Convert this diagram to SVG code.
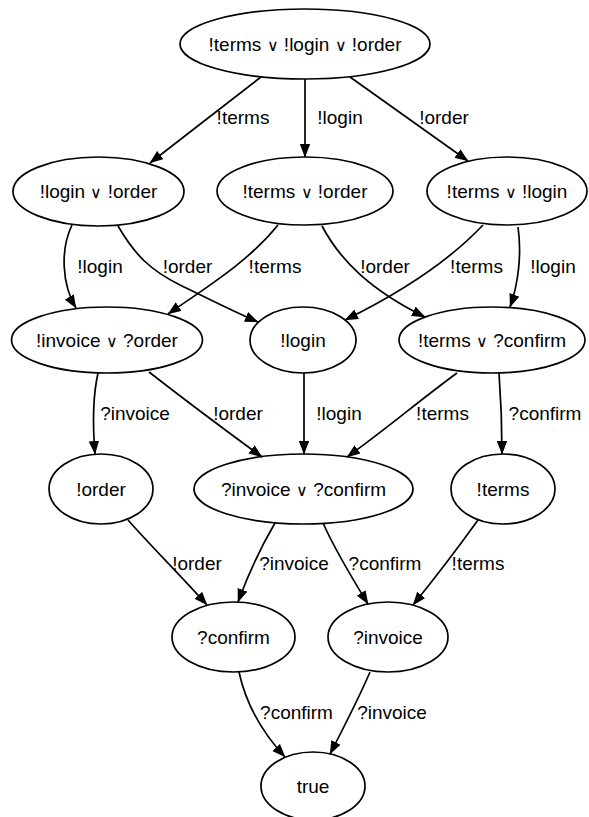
<svg xmlns="http://www.w3.org/2000/svg" width="589" height="817" viewBox="0 0 589 817">
<style>
text{font-family:"Liberation Sans",Arial,"DejaVu Sans",sans-serif;font-size:19px;fill:#000;text-anchor:middle}
.o{font-family:"DejaVu Sans",sans-serif;font-size:16px;font-weight:200}
.n ellipse{fill:none;stroke:#000;stroke-width:1.7}
.e path{fill:none;stroke:#000;stroke-width:1.7;marker-end:url(#ah)}
</style>
<defs>
<marker id="ah" markerUnits="userSpaceOnUse" markerWidth="14" markerHeight="11" refX="13" refY="5.2" orient="auto">
<path d="M0,0 L13.5,5.2 L0,10.4 z" fill="#000"/>
</marker>
</defs>
<g class="n">
<g id="n_top"><ellipse cx="305" cy="44" rx="125" ry="35"/><text x="305" y="50.5">!terms <tspan class="o">∨</tspan> !login <tspan class="o">∨</tspan> !order</text></g>
<g id="n_login_order"><ellipse cx="98.5" cy="191.5" rx="85.5" ry="34.5"/><text x="98.5" y="198">!login <tspan class="o">∨</tspan> !order</text></g>
<g id="n_terms_order"><ellipse cx="305" cy="191" rx="88" ry="34"/><text x="305" y="197.5">!terms <tspan class="o">∨</tspan> !order</text></g>
<g id="n_terms_login"><ellipse cx="507" cy="191" rx="80" ry="34"/><text x="507" y="197.5">!terms <tspan class="o">∨</tspan> !login</text></g>
<g id="n_invoice_order"><ellipse cx="107" cy="340" rx="95.5" ry="33"/><text x="107" y="346.5">!invoice <tspan class="o">∨</tspan> ?order</text></g>
<g id="n_login"><ellipse cx="303" cy="340" rx="53" ry="33"/><text x="303" y="346.5">!login</text></g>
<g id="n_terms_confirm"><ellipse cx="492" cy="340" rx="93" ry="33"/><text x="492" y="346.5">!terms <tspan class="o">∨</tspan> ?confirm</text></g>
<g id="n_order"><ellipse cx="101" cy="489" rx="52" ry="35"/><text x="101" y="495.5">!order</text></g>
<g id="n_invoice_confirm"><ellipse cx="303.5" cy="489" rx="109.5" ry="35"/><text x="303.5" y="495.5">?invoice <tspan class="o">∨</tspan> ?confirm</text></g>
<g id="n_terms"><ellipse cx="503" cy="489" rx="52" ry="35"/><text x="503" y="495.5">!terms</text></g>
<g id="n_confirm"><ellipse cx="233.5" cy="637" rx="61.5" ry="35"/><text x="233.5" y="643.5">?confirm</text></g>
<g id="n_invoice"><ellipse cx="388" cy="637" rx="60" ry="35"/><text x="388" y="643.5">?invoice</text></g>
<g id="n_true"><ellipse cx="313" cy="786" rx="52" ry="34"/><text x="313" y="792.5">true</text></g>
</g>
<g class="e" id="connectors">
<path d="M261,77 L150,163"/>
<path d="M305,79 L305,157"/>
<path d="M350,77 L468,161"/>
<path d="M72,225 C60,250 62,285 76,308"/>
<path d="M118,226 C135,255 150,270 180,285 C205,297 230,310 258,322"/>
<path d="M278,225 C250,260 210,285 168,314"/>
<path d="M322,226 C340,260 370,290 425,317"/>
<path d="M483,225 C450,260 400,293 345,320"/>
<path d="M518,227 C522,255 518,285 510,307"/>
<path d="M98,373 C92,400 93,430 95,454"/>
<path d="M149,372 C185,400 225,430 262,457"/>
<path d="M304,373 L304,454"/>
<path d="M457,373 C420,400 385,430 347,457"/>
<path d="M499,373 C501,400 502,430 502,454"/>
<path d="M128,520 C150,545 180,575 207,605"/>
<path d="M275,523 C262,545 248,575 238,602"/>
<path d="M323,523 C335,550 352,578 368,604"/>
<path d="M478,520 C460,545 435,578 413,605"/>
<path d="M239,672 C245,700 260,730 285,757"/>
<path d="M370,672 C358,700 345,725 330,754"/>
</g>
<g id="labels">
<text x="243" y="123.5">!terms</text>
<text x="340" y="123.5">!login</text>
<text x="444" y="123.5">!order</text>
<text x="100" y="273">!login</text>
<text x="187.5" y="273">!order</text>
<text x="275" y="273">!terms</text>
<text x="385" y="273">!order</text>
<text x="476.5" y="273">!terms</text>
<text x="553" y="273">!login</text>
<text x="135" y="419.5">?invoice</text>
<text x="238" y="419.5">!order</text>
<text x="339" y="419.5">!login</text>
<text x="442.5" y="419.5">!terms</text>
<text x="545" y="419.5">?confirm</text>
<text x="197" y="569.5">!order</text>
<text x="294" y="569.5">?invoice</text>
<text x="385" y="569.5">?confirm</text>
<text x="478" y="569.5">!terms</text>
<text x="296.5" y="718.5">?confirm</text>
<text x="392" y="718.5">?invoice</text>
</g>
</svg>
